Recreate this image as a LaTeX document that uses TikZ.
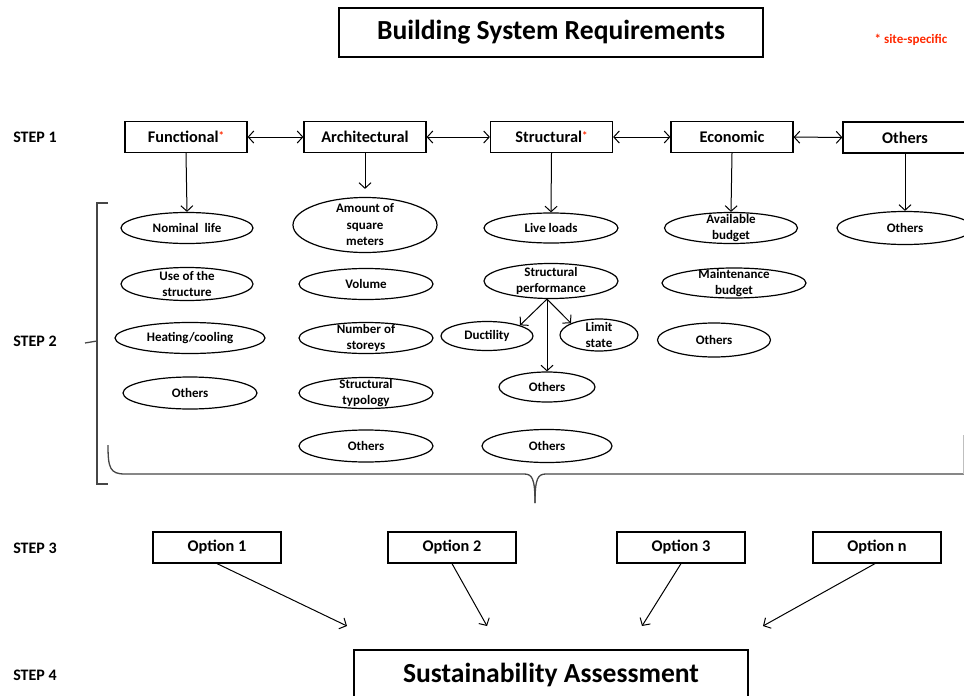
\documentclass[tikz,border=0pt]{standalone}
\usepackage{fontspec}
\setmainfont{Carlito}
\usetikzlibrary{shapes.geometric,arrows.meta}
\definecolor{sitered}{RGB}{255,40,0}
\definecolor{brgray}{RGB}{70,70,70}
\tikzset{
  box/.style={draw, rectangle, line width=1.2pt, inner sep=0pt, minimum height=31, font=\fontsize{16.3}{19}\selectfont\bfseries},
  bigbox/.style={draw, rectangle, line width=1.4pt, inner sep=0pt, font=\fontsize{27.6}{31}\selectfont\bfseries},
  ell/.style={draw, ellipse, line width=1.2pt, inner sep=0pt},
  etext/.style={align=center, font=\fontsize{13}{16.5}\selectfont\bfseries, inner sep=0pt},
  steplbl/.style={font=\fontsize{16}{19}\selectfont\bfseries, inner sep=0pt},
  arr/.style={line width=1pt, -{Straight Barb[length=5.5pt,width=12pt]}},
  darr/.style={line width=1pt, {Straight Barb[length=5.5pt,width=12pt]}-{Straight Barb[length=5.5pt,width=12pt]}},
  brace/.style={line width=1.3pt, draw=brgray},
}
\newcommand{\redast}{\smash{\raisebox{3pt}{\fontsize{11}{11}\selectfont\color{sitered}*}}}
\begin{document}
\begin{tikzpicture}[x=1pt,y=-1pt]
\useasboundingbox (0,0) rectangle (964,696);
% title
\node[bigbox, minimum width=424, minimum height=49] (title) at (551,32.5) {Building System Requirements};
\node[font=\fontsize{13}{15}\selectfont\bfseries, text=sitered, inner sep=0pt] (note) at (911,40) {* site-specific};
% step labels
\node[steplbl] (s1) at (35,137) {STEP 1};
\node[steplbl] (s2) at (35,341) {STEP 2};
\node[steplbl] (s3) at (35,548) {STEP 3};
\node[steplbl] (s4) at (35,675) {STEP 4};
% step 1 boxes
\node[box, minimum width=122] (fun) at (186,137) {Functional\redast};
\node[box, minimum width=122] (arc) at (365,137) {Architectural};
\node[box, minimum width=122] (str) at (551.5,137) {Structural\redast};
\node[box, minimum width=122] (eco) at (732,137) {Economic};
\node[box, minimum width=124] (oth) at (905,137.5) {Others};
\draw[darr] (fun) -- (arc);
\draw[darr] (arc) -- (str);
\draw[darr] (str) -- (eco);
\draw[darr] (eco) -- (oth);
% functional column
\node[ell, minimum width=132, minimum height=31, label={[etext]center:Nominal\ \ life}] (nl) at (187,228) {};
\node[ell, minimum width=132, minimum height=33, label={[etext]center:Use of the\\structure}] (uos) at (187,284) {};
\node[ell, minimum width=150, minimum height=31, label={[etext]center:Heating/cooling}] (hc) at (190,338) {};
\node[ell, minimum width=134, minimum height=32, label={[etext]center:Others}] (fo) at (190,393) {};
% architectural column
\node[ell, minimum width=144, minimum height=55, label={[etext]center:Amount of\\square\\meters}] (am) at (365,225) {};
\node[ell, minimum width=134, minimum height=31, label={[etext]center:Volume}] (vol) at (366,284) {};
\node[ell, minimum width=134, minimum height=31, label={[etext]center:Number of\\storeys}] (ns) at (366,338) {};
\node[ell, minimum width=134, minimum height=31, label={[etext]center:Structural\\typology}] (st) at (366,393) {};
\node[ell, minimum width=134, minimum height=32, label={[etext]center:Others}] (ao) at (366,446) {};
% structural column
\node[ell, minimum width=134, minimum height=30, label={[etext]center:Live loads}] (ll) at (551,228) {};
\node[ell, minimum width=134, minimum height=35, label={[etext]center:Structural\\performance}] (sp) at (551,281) {};
\node[ell, minimum width=92, minimum height=29, label={[etext]center:Ductility}] (du) at (487,336) {};
\node[ell, minimum width=78, minimum height=32, label={[etext]center:Limit\\state}] (ls) at (599,335) {};
\node[ell, minimum width=96, minimum height=30, label={[etext]center:Others}] (so) at (547,387) {};
\node[ell, minimum width=130, minimum height=33, label={[etext]center:Others}] (so2) at (547,446) {};
% economic column
\node[ell, minimum width=133, minimum height=31, label={[etext]center:Available\\budget}] (ab) at (731,228) {};
\node[ell, minimum width=144, minimum height=30, label={[etext]center:Maintenance\\budget}] (mb) at (734,283) {};
\node[ell, minimum width=113, minimum height=34, label={[etext]center:Others}] (eo) at (714,340) {};
% others column
\node[ell, minimum width=136, minimum height=33, label={[etext]center:Others}] (oo) at (905,228) {};
% vertical arrows
\draw[arr] (fun.south) -- (nl.north);
\draw[arr] (arc.south) -- ([yshift=8]am.north);
\draw[arr] (str.south) -- (ll.north);
\draw[arr] (eco.south) -- (ab.north);
\draw[arr] (oth.south) -- (oo.north);
\draw[arr] ([xshift=-4]sp.south) -- (du.north east);
\draw[arr] ([xshift=-4]sp.south) -- (ls.north west);
\draw[arr] ([xshift=-4]sp.south) -- (so.north);
% braces
\draw[brace] (108,203) -- (97,203) -- (97,484) -- (108,484);
\draw[brace] (85,343) -- (97,341);
\draw[brace] (108,445) .. controls (108,468) and (110,474) .. (125,474) -- (524,474)
  .. controls (532,474) and (535,478) .. (535,503);
\draw[brace] (535,503) .. controls (535,478) and (538,474) .. (546,474) -- (966,474);
\draw[line width=1pt, draw=black!25] (963,435) -- (963,474);
% step 3
\node[box, minimum width=128] (o1) at (217,547.5) {Option 1};
\node[box, minimum width=128] (o2) at (452,547.5) {Option 2};
\node[box, minimum width=128] (o3) at (681,547.5) {Option 3};
\node[box, minimum width=128] (on) at (877,547.5) {Option n};
\coordinate (e1) at (347,626);
\coordinate (e2) at (487,626);
\coordinate (e3) at (642,626);
\coordinate (e4) at (763,626);
\draw[arr] (o1.south) -- (e1);
\draw[arr] (o2.south) -- (e2);
\draw[arr] (o3.south) -- (e3);
\draw[arr] ([xshift=-2]on.south) -- (e4);
% step 4
\node[bigbox, line width=1.2pt, minimum width=394, minimum height=50] (sa) at (551,675) {Sustainability Assessment};
\end{tikzpicture}
\end{document}
